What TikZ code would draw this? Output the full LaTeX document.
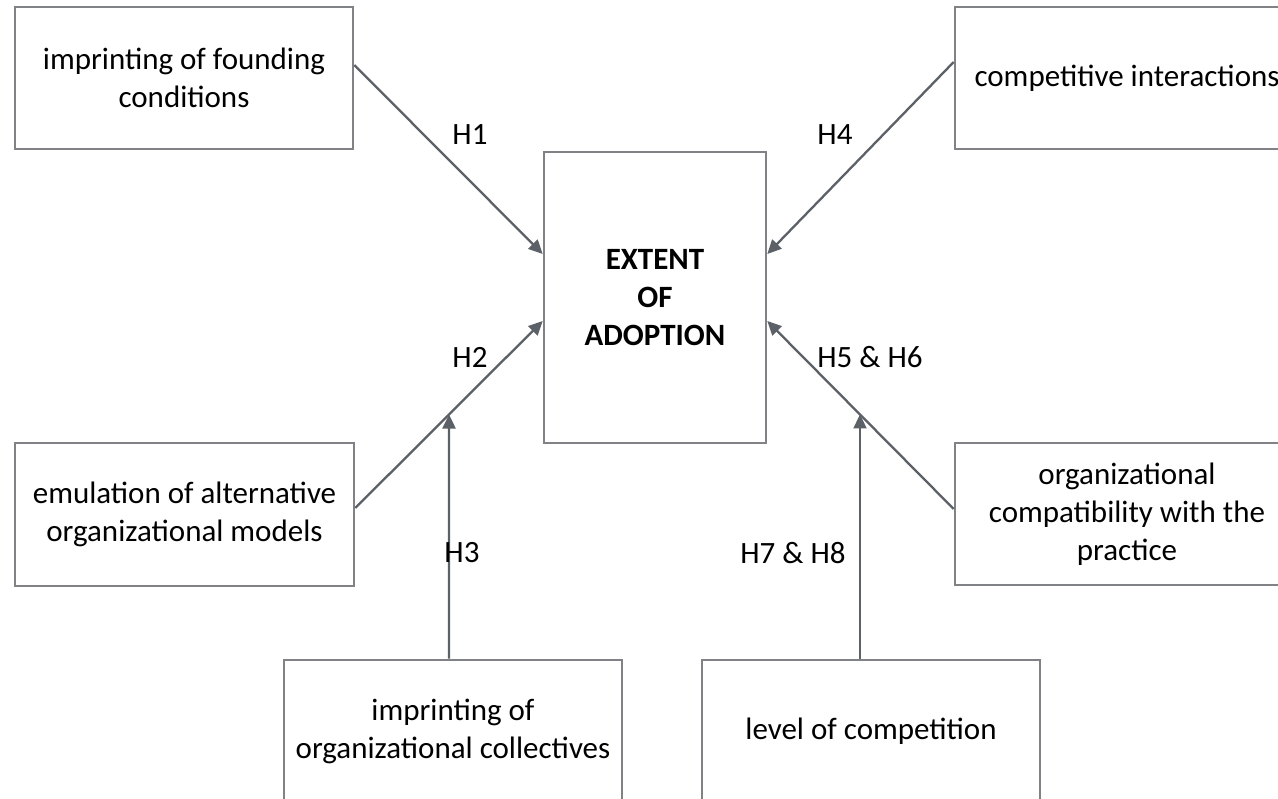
\documentclass[tikz,border=0pt]{standalone}
\usepackage{fontspec}
\setmainfont{Carlito}
\usetikzlibrary{arrows.meta,calc}
\definecolor{boxgray}{RGB}{128,130,134}
\definecolor{arrowgray}{RGB}{92,97,104}
\tikzset{
  factor/.style={draw=boxgray, line width=2.6pt, rectangle, align=center,
    minimum width=#1, minimum height=142pt, inner sep=0pt,
    font=\fontsize{31}{38}\selectfont},
  factor/.default=338pt,
  hyp/.style={draw=arrowgray, line width=2.3pt,
    -{Triangle[length=14pt,width=13pt]}, shorten >=0pt},
  hlabel/.style={inner sep=0pt, font=\fontsize{31}{38}\selectfont},
}
\begin{document}
\begin{tikzpicture}[x=1pt,y=-1pt]
\useasboundingbox (0,0) rectangle (1278,799);
\clip (0,0) rectangle (1278,799);
\fill[white] (0,0) rectangle (1278,799);

\node[factor=338pt] (b1) at (184,78) {imprinting of founding\\conditions};
\node[factor=344pt] (b4) at (1127,78) {competitive interactions};
\node[factor=339pt, minimum height=143pt] (b2) at (184.5,514.5) {emulation of alternative\\organizational models};
\node[factor=344pt] (b5) at (1127,514) {organizational\\compatibility with the\\practice};
\node[factor=338pt] (b3) at (453,731) {imprinting of\\organizational collectives};
\node[factor=338pt] (b6) at (871,731) {level of competition};
\node[draw=boxgray, line width=2.6pt, rectangle, align=center,
  minimum width=222pt, minimum height=291pt, inner sep=0pt,
  font=\fontsize{31}{38}\selectfont\bfseries] (c) at (655,297.5) {EXTENT\\OF\\ADOPTION};

\coordinate (h1s) at ([yshift=13pt]b1.east);
\coordinate (h1e) at ([yshift=43.5pt]c.west);
\coordinate (h4s) at ([yshift=16pt]b4.west);
\coordinate (h4e) at ([yshift=43.5pt]c.east);
\coordinate (h2s) at ([yshift=6.5pt]b2.east);
\coordinate (h2e) at ([yshift=-23.5pt]c.west);
\coordinate (h5s) at ([yshift=5pt]b5.west);
\coordinate (h5e) at ([yshift=-23.5pt]c.east);
\coordinate (h3s) at ([xshift=-4pt]b3.north);
\coordinate (h7s) at ([xshift=-11pt]b6.north);
\coordinate (h3e) at (intersection of h2s--h2e and h3s--{$(h3s)+(0,-300)$});
\coordinate (h7e) at (intersection of h5s--h5e and h7s--{$(h7s)+(0,-300)$});

\draw[hyp] (h1s) -- (h1e);
\draw[hyp] (h4s) -- (h4e);
\draw[hyp] (h2s) -- (h2e);
\draw[hyp] (h5s) -- (h5e);
\draw[hyp] (h3s) -- (h3e);
\draw[hyp] (h7s) -- (h7e);

\node[hlabel] (l1) at (470,135) {H1};
\node[hlabel] (l4) at (835,135) {H4};
\node[hlabel] (l2) at (470,357) {H2};
\node[hlabel] (l5) at (870,357) {H5 \& H6};
\node[hlabel] (l3) at (462,553) {H3};
\node[hlabel] (l7) at (793,553) {H7 \& H8};
\end{tikzpicture}
\end{document}
